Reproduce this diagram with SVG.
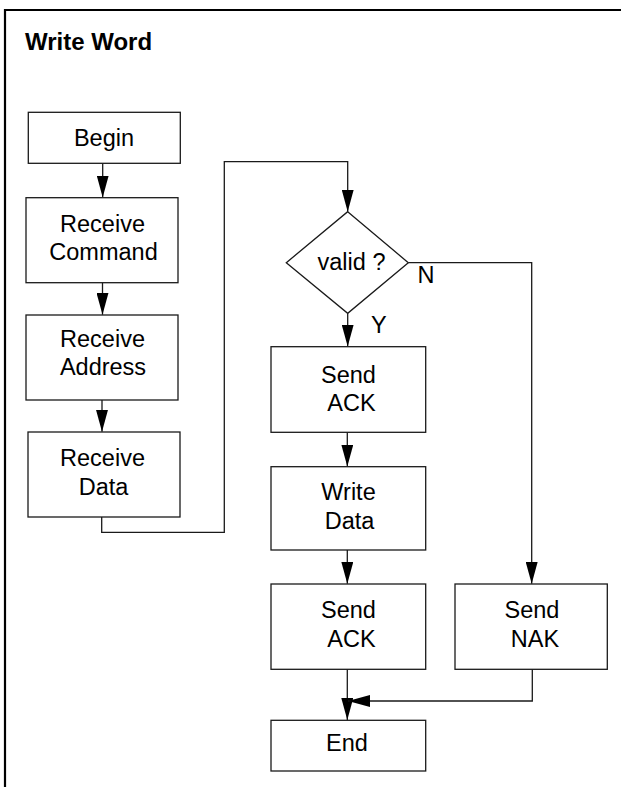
<svg xmlns="http://www.w3.org/2000/svg" width="621" height="787" viewBox="0 0 621 787">
<defs>
<style>
.box{fill:#fff;stroke:#1a1a1a;stroke-width:1.3}
.ln{fill:none;stroke:#1a1a1a;stroke-width:1.3}
.t{font-family:"Liberation Sans",Arial,sans-serif;font-size:23.5px;fill:#000;text-anchor:middle}
.lbl{font-family:"Liberation Sans",Arial,sans-serif;font-size:23.5px;fill:#000}
.title{font-family:"Liberation Sans",Arial,sans-serif;font-size:24px;font-weight:bold;fill:#000}
</style>
<marker id="arr" markerUnits="userSpaceOnUse" markerWidth="22" markerHeight="12" refX="22" refY="6" orient="auto">
<path d="M0,0 L22,6 L0,12 z" fill="#000"/>
</marker>
</defs>
<rect width="621" height="787" fill="#fff"/>
<g id="frame">
<path d="M5,787 V10 H621" fill="none" stroke="#000" stroke-width="2.2"/>
<text class="title" x="25" y="49.5">Write Word</text>
</g>
<g id="connectors">
<path class="ln" d="M102.7,163.3 V197.5" marker-end="url(#arr)"/>
<path class="ln" d="M102.5,282.7 V314.8" marker-end="url(#arr)"/>
<path class="ln" d="M102,400 V431.8" marker-end="url(#arr)"/>
<path class="ln" d="M101.7,517 V532.3 H224.3 V161.7 H347.7 V211.7" marker-end="url(#arr)"/>
<path class="ln" d="M347.7,313.3 V346.6" marker-end="url(#arr)"/>
<path class="ln" d="M408.3,262.7 H531.7 V583.8" marker-end="url(#arr)"/>
<path class="ln" d="M347.3,432.3 V466.6" marker-end="url(#arr)"/>
<path class="ln" d="M347.3,550 V583.8" marker-end="url(#arr)"/>
<path class="ln" d="M347.3,669.3 V720" marker-end="url(#arr)"/>
<path class="ln" d="M532.3,669.3 V701 H348" marker-end="url(#arr)"/>
<text class="lbl" x="417.5" y="283.3">N</text>
<text class="lbl" x="371" y="333.3">Y</text>
</g>
<g id="begin">
<rect class="box" x="28.3" y="112.3" width="152" height="51"/>
<text class="t" x="104" y="146">Begin</text>
</g>
<g id="receive-command">
<rect class="box" x="26" y="197.7" width="152" height="85"/>
<text class="t" x="102.5" y="231.7">Receive</text>
<text class="t" x="103.5" y="260">Command</text>
</g>
<g id="receive-address">
<rect class="box" x="26" y="315" width="152" height="85"/>
<text class="t" x="102.5" y="346.7">Receive</text>
<text class="t" x="103" y="375">Address</text>
</g>
<g id="receive-data">
<rect class="box" x="28" y="432" width="152" height="85"/>
<text class="t" x="102.5" y="466">Receive</text>
<text class="t" x="103.5" y="495">Data</text>
</g>
<g id="valid">
<path class="box" d="M347.7,211.7 L408.3,262.7 L347.7,313.3 L286.3,262.7 Z"/>
<text class="t" x="351.5" y="270">valid ?</text>
</g>
<g id="send-ack-1">
<rect class="box" x="271" y="346.7" width="154.7" height="85.6"/>
<text class="t" x="348.5" y="382.7">Send</text>
<text class="t" x="351.5" y="411">ACK</text>
</g>
<g id="write-data">
<rect class="box" x="271" y="466.7" width="154.7" height="83.3"/>
<text class="t" x="348.5" y="500">Write</text>
<text class="t" x="349.5" y="529.3">Data</text>
</g>
<g id="send-ack-2">
<rect class="box" x="271" y="584" width="154.7" height="85.3"/>
<text class="t" x="348.5" y="618.3">Send</text>
<text class="t" x="351.5" y="647.3">ACK</text>
</g>
<g id="send-nak">
<rect class="box" x="455" y="584" width="152.3" height="85.3"/>
<text class="t" x="532" y="618.3">Send</text>
<text class="t" x="535" y="647.3">NAK</text>
</g>
<g id="end">
<rect class="box" x="271" y="720.3" width="154.7" height="50.7"/>
<text class="t" x="347" y="751">End</text>
</g>
</svg>
